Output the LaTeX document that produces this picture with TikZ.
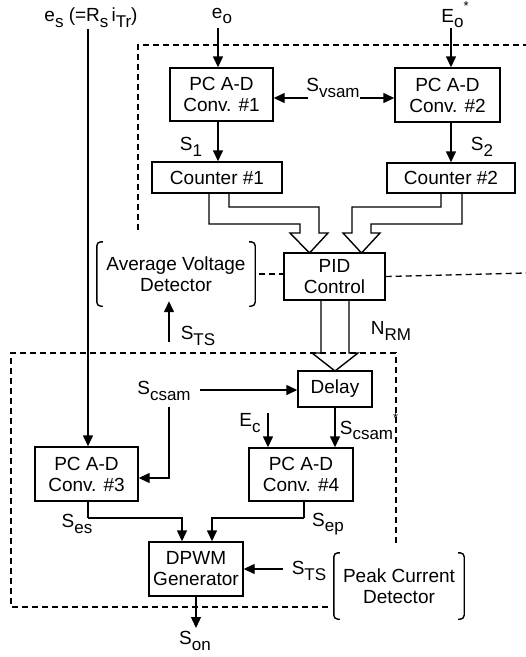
\documentclass[tikz,border=0pt]{standalone}
\usepackage{fontspec}
\setmainfont{Liberation Sans}
\usetikzlibrary{arrows.meta,calc}
% lowered subscript and raised superscript in plain text
\newcommand{\dn}[1]{\raisebox{-0.3em}{\fontsize{17}{17}\selectfont #1}}
\newcommand{\upr}[1]{\raisebox{0.6em}{\fontsize{13}{13}\selectfont #1}}
\tikzset{
  blk/.style={draw, line width=1.4pt, inner sep=0pt, align=center,
              font=\fontsize{19}{21}\selectfont},
  lbl/.style={inner sep=0pt, align=center, font=\fontsize{19}{21}\selectfont},
  arr/.style={line width=1.4pt, -{Triangle[length=11pt,width=10pt]}},
  wire/.style={line width=1.4pt},
  bound/.style={line width=1.3pt, dash pattern=on 6pt off 4pt},
  fat/.style={line width=1.4pt, line join=miter},
  brk/.style={line width=1.4pt, rounded corners=4pt}
}
\begin{document}
\begin{tikzpicture}[x=1pt,y=-1pt]
\useasboundingbox (0,0) rectangle (526,657);

% ---- blocks ----
\node[blk, minimum width=103pt, minimum height=53pt] (c1) at (221.5,94.5) {PC A-D\\Conv. \#1};
\node[blk, minimum width=105pt, minimum height=54pt] (c2) at (447.5,95) {PC A-D\\Conv. \#2};
\node[blk, minimum width=130pt, minimum height=31pt] (cnt1) at (217,177.5) {Counter \#1};
\node[blk, minimum width=128pt, minimum height=30pt] (cnt2) at (451,178) {Counter \#2};
\node[blk, minimum width=101pt, minimum height=47pt] (pid) at (334.5,276.5) {PID\\Control};
\node[blk, minimum width=74pt, minimum height=36pt] (delay) at (335,389) {Delay};
\node[blk, minimum width=103pt, minimum height=54pt] (c3) at (86.5,474) {PC A-D\\Conv. \#3};
\node[blk, minimum width=104pt, minimum height=53pt] (c4) at (301,474.5) {PC A-D\\Conv. \#4};
\node[blk, minimum width=94pt, minimum height=54pt] (dpwm) at (196,569) {DPWM\\Generator};

% ---- bracketed detectors ----
\node[lbl, minimum width=158pt, minimum height=64pt] (avg) at (176,274) {Average Voltage\\Detector};
\node[lbl, minimum width=130pt, minimum height=66pt] (peak) at (399,586) {Peak Current\\Detector};
\foreach \b in {avg,peak}{
  \draw[brk] ([xshift=6pt]\b.north west) -- (\b.north west) -- (\b.south west) -- ([xshift=6pt]\b.south west);
  \draw[brk] ([xshift=-6pt]\b.north east) -- (\b.north east) -- (\b.south east) -- ([xshift=-6pt]\b.south east);
}

% ---- signal labels ----
\node[lbl] (es) at (91,18) {e\dn{s} (=R\dn{s}\,i\dn{Tr})};
\node[lbl] (eo) at (222,16) {e\dn{o}};
\node[lbl] (Eo) at (455,15) {E\dn{o}\upr{*}};
\node[lbl] (svsam) at (333,88) {S\dn{vsam}};
\node[lbl] (s1) at (191,147) {S\dn{1}};
\node[lbl] (s2) at (482,147) {S\dn{2}};
\node[lbl] (sts1) at (198,336) {S\dn{TS}};
\node[lbl] (nrm) at (391,331) {N\dn{RM}};
\node[lbl] (scsam) at (164,391) {S\dn{csam}};
\node[lbl] (ec) at (250,423) {E\dn{c}};
\node[lbl] (scsams) at (369,427) {S\dn{csam}\upr{*}};
\node[lbl] (ses) at (77,524) {S\dn{es}};
\node[lbl] (sep) at (328,524) {S\dn{ep}};
\node[lbl] (sts2) at (309,571) {S\dn{TS}};
\node[lbl] (son) at (195,641) {S\dn{on}};

% ---- connector end points ----
\coordinate (esl) at (88,29);
\coordinate (eoa) at (218,28);
\coordinate (Eoa) at (451,28);
\coordinate (svL) at (308,98);
\coordinate (svR) at (360,98);
\coordinate (stsa) at (169,342);
\coordinate (scR) at (200,390);
\coordinate (scD) at (169,407);
\coordinate (eca) at (268,413);
\coordinate (j3) at (88,518);
\coordinate (j4) at (304,518);
\coordinate (stsb) at (283,569);
\coordinate (sonp) at (197,628);

% ---- connectors ----
\draw[arr] (esl) -- (esl |- c3.north);
\draw[arr] (eoa) -- (eoa |- c1.north);
\draw[arr] (Eoa) -- (Eoa |- c2.north);
\draw[arr] (svL) -- (svL -| c1.east);
\draw[arr] (svR) -- (svR -| c2.west);
\draw[arr] (eoa |- c1.south) -- (eoa |- cnt1.north);
\draw[arr] (Eoa |- c2.south) -- (Eoa |- cnt2.north);
\draw[arr] (stsa) -- ([yshift=5pt]stsa |- avg.south);
\draw[arr] (scR) -- (scR -| delay.west);
\draw[arr] (scD) |- ([yshift=-4pt]c3.east);
\draw[arr] (eca) -- (eca |- c4.north);
\draw[arr] (delay.south) -- (delay.south |- c4.north);
\draw[wire] (esl |- c3.south) -- (j3);
\draw[arr] (j3) -| ([xshift=-14pt]dpwm.north);
\draw[wire] (j4 |- c4.south) -- (j4);
\draw[arr] (j4) -| ([xshift=16pt]dpwm.north);
\draw[arr] (stsb) -- (stsb -| dpwm.east);
\draw[arr] (dpwm.south) -- (dpwm.south |- sonp);

% ---- wide data-bus arrows ----
\draw[fat] (209,193) -- (209,224) -- (300,224) -- (300,233) -- (290,233) -- (309.5,253)
  -- (328,233) -- (319,233) -- (319,207) -- (229,207) -- (229,193);
\draw[fat] (441,193) -- (441,207) -- (352,207) -- (352,233) -- (343,233) -- (361.5,253)
  -- (380,233) -- (371,233) -- (371,224) -- (462,224) -- (462,193);
\draw[fat] (321,300) -- (321,353) -- (312,353) -- (335,371) -- (358,353) -- (349,353) -- (349,300);

% ---- dashed partitions ----
\draw[bound] (138,230) -- (138,45) -- (526,45);
\draw[bound] (avg.east) ++(4,0) -- (pid.west |- avg.east);
\draw[bound] (pid.east) -- (526,273);
\draw[bound] (396,543) -- (396,353) -- (11,353) -- (11,607) -- (330,607);
\end{tikzpicture}
\end{document}
